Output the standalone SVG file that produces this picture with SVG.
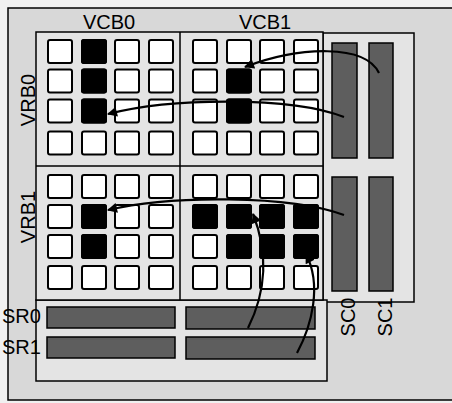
<svg xmlns="http://www.w3.org/2000/svg" width="452" height="403" viewBox="0 0 452 403">
<defs>
<style>
.frame{fill:#e4e4e4;stroke:#000;stroke-width:1.5}
.c{fill:#fff;stroke:#000;stroke-width:2}
.k{fill:#000;stroke:#000;stroke-width:2}
.bar{fill:#5e5e5e;stroke:#000;stroke-width:1.5}
.t{font-family:"Liberation Sans",Arial,sans-serif;font-size:20px;fill:#000}
.conn{fill:none;stroke:#000;stroke-width:2.2}
</style>
<marker id="ah" viewBox="0 0 10 10" refX="9" refY="5" markerWidth="11" markerHeight="10" markerUnits="userSpaceOnUse" orient="auto">
<path d="M0,0 L10,5 L0,10 z" fill="#000"/>
</marker>
<g id="row4">
<rect class="c" x="0" y="0" width="24" height="23" rx="2"/>
<rect class="c" x="34" y="0" width="24" height="23" rx="2"/>
<rect class="c" x="67" y="0" width="24" height="23" rx="2"/>
<rect class="c" x="101" y="0" width="24" height="23" rx="2"/>
</g>
</defs>
<rect x="0" y="0" width="452" height="403" fill="#f0f0f0"/>
<rect x="8" y="8" width="452" height="392" fill="#d8d8d8" stroke="#000" stroke-width="1.5"/>
<g id="sc-frame"><rect class="frame" x="323" y="33" width="91" height="269"/></g>
<g id="sr-frame"><rect class="frame" x="36" y="300" width="291" height="81"/></g>
<g id="grid">
<rect class="frame" x="36" y="32" width="287" height="268"/>
<line x1="180" y1="32" x2="180" y2="300" stroke="#000" stroke-width="1.5"/>
<line x1="36" y1="166" x2="323" y2="166" stroke="#000" stroke-width="1.5"/>
</g>
<g id="VRB0-VCB0">
<use href="#row4" x="48" y="40"/><use href="#row4" x="48" y="69.5"/><use href="#row4" x="48" y="99.5"/><use href="#row4" x="48" y="131.5"/>
<rect class="k" x="82" y="40" width="24" height="23" rx="2"/>
<rect class="k" x="82" y="69.5" width="24" height="23" rx="2"/>
<rect class="k" x="82" y="99.5" width="24" height="23" rx="2"/>
</g>
<g id="VRB0-VCB1">
<use href="#row4" x="193" y="40"/><use href="#row4" x="193" y="69.5"/><use href="#row4" x="193" y="99.5"/><use href="#row4" x="193" y="131.5"/>
<rect class="k" x="227" y="69.5" width="24" height="23" rx="2"/>
<rect class="k" x="227" y="99.5" width="24" height="23" rx="2"/>
</g>
<g id="VRB1-VCB0">
<use href="#row4" x="48" y="175"/><use href="#row4" x="48" y="205"/><use href="#row4" x="48" y="235"/><use href="#row4" x="48" y="266"/>
<rect class="k" x="82" y="205" width="24" height="23" rx="2"/>
<rect class="k" x="82" y="235" width="24" height="23" rx="2"/>
</g>
<g id="VRB1-VCB1">
<use href="#row4" x="193" y="175"/><use href="#row4" x="193" y="205"/><use href="#row4" x="193" y="235"/><use href="#row4" x="193" y="266"/>
<rect class="k" x="193" y="205" width="24" height="23" rx="2"/>
<rect class="k" x="227" y="205" width="24" height="23" rx="2"/>
<rect class="k" x="260" y="205" width="24" height="23" rx="2"/>
<rect class="k" x="294" y="205" width="24" height="23" rx="2"/>
<rect class="k" x="227" y="235" width="24" height="23" rx="2"/>
<rect class="k" x="260" y="235" width="24" height="23" rx="2"/>
<rect class="k" x="294" y="235" width="24" height="23" rx="2"/>
</g>
<g id="SC0">
<rect class="bar" x="332" y="43" width="25" height="115"/>
<rect class="bar" x="332" y="177" width="25" height="114"/>
</g>
<g id="SC1">
<rect class="bar" x="369" y="43" width="24" height="115"/>
<rect class="bar" x="369" y="177" width="24" height="114"/>
</g>
<g id="SR0">
<rect class="bar" x="47" y="307" width="128" height="21"/>
<rect class="bar" x="186" y="307" width="129" height="22"/>
</g>
<g id="SR1">
<rect class="bar" x="47" y="337" width="128" height="21"/>
<rect class="bar" x="186" y="337" width="129" height="22"/>
</g>
<g id="connectors">
<path class="conn" d="M379,73 C365,44 300,46 245,67" marker-end="url(#ah)"/>
<path class="conn" d="M344,117 C290,96 170,98 108,114" marker-end="url(#ah)"/>
<path class="conn" d="M344,215 C290,195 170,195 108,210" marker-end="url(#ah)"/>
<path class="conn" d="M248,328 C262,300 272,262 253,214" marker-end="url(#ah)"/>
<path class="conn" d="M297,353 C312,325 322,285 306,254" marker-end="url(#ah)"/>
</g>
<g id="labels">
<text class="t" x="109" y="29" text-anchor="middle">VCB0</text>
<text class="t" x="265" y="29" text-anchor="middle">VCB1</text>
<text class="t" transform="translate(35,100) rotate(-90)" text-anchor="middle">VRB0</text>
<text class="t" transform="translate(35,217) rotate(-90)" text-anchor="middle">VRB1</text>
<text class="t" x="2" y="323">SR0</text>
<text class="t" x="2" y="354">SR1</text>
<text class="t" transform="translate(355,317) rotate(-90)" text-anchor="middle">SC0</text>
<text class="t" transform="translate(392,317) rotate(-90)" text-anchor="middle">SC1</text>
</g>
</svg>
